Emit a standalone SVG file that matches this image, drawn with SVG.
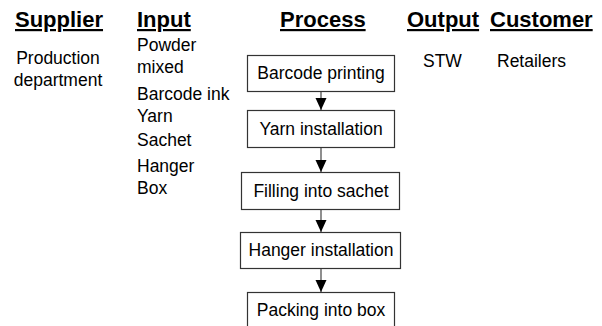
<svg xmlns="http://www.w3.org/2000/svg" width="602" height="326" viewBox="0 0 602 326">
<defs>
<style>
.h{font-family:"Liberation Sans",Arial,sans-serif;font-size:22px;font-weight:bold;text-decoration:underline;fill:#000}
.t{font-family:"Liberation Sans",Arial,sans-serif;font-size:17.5px;fill:#000}
.b{fill:#fff;stroke:#333;stroke-width:1.2}
.c{stroke:#444;stroke-width:1.2;fill:none}
</style>
<marker id="ah" markerWidth="12" markerHeight="12" refX="12" refY="6" orient="auto" markerUnits="userSpaceOnUse">
<path d="M0,0.5 L12,6 L0,11.5 Z" fill="#000"/>
</marker>
</defs>
<rect width="602" height="326" fill="#fff"/>
<g id="headers">
<text class="h" x="15" y="27">Supplier</text>
<text class="h" x="137" y="27">Input</text>
<text class="h" x="280" y="27">Process</text>
<text class="h" x="407" y="27">Output</text>
<text class="h" x="490" y="27">Customer</text>
</g>
<g id="supplier">
<text class="t" x="58" y="64" text-anchor="middle">Production</text>
<text class="t" x="58" y="86" text-anchor="middle">department</text>
</g>
<g id="input">
<text class="t" x="137" y="51">Powder</text>
<text class="t" x="137" y="73">mixed</text>
<text class="t" x="137" y="100">Barcode ink</text>
<text class="t" x="137" y="122">Yarn</text>
<text class="t" x="137" y="146">Sachet</text>
<text class="t" x="137" y="172">Hanger</text>
<text class="t" x="137" y="194">Box</text>
</g>
<g id="output"><text class="t" x="423" y="67">STW</text></g>
<g id="customer"><text class="t" x="497" y="67">Retailers</text></g>
<g id="connectors">
<line class="c" x1="321" y1="91" x2="321" y2="110" marker-end="url(#ah)"/>
<line class="c" x1="321" y1="147" x2="321" y2="172" marker-end="url(#ah)"/>
<line class="c" x1="321" y1="209" x2="321" y2="232" marker-end="url(#ah)"/>
<line class="c" x1="321" y1="268" x2="321" y2="292" marker-end="url(#ah)"/>
</g>
<g id="n1"><rect class="b" x="247.5" y="55.5" width="147" height="36"/><text class="t" x="321" y="79" text-anchor="middle">Barcode printing</text></g>
<g id="n2"><rect class="b" x="247.5" y="110.5" width="147" height="37"/><text class="t" x="321" y="135" text-anchor="middle">Yarn installation</text></g>
<g id="n3"><rect class="b" x="241.5" y="172.5" width="158" height="37"/><text class="t" x="321" y="197" text-anchor="middle">Filling into sachet</text></g>
<g id="n4"><rect class="b" x="240.5" y="232.5" width="160" height="36"/><text class="t" x="321" y="256" text-anchor="middle">Hanger installation</text></g>
<g id="n5"><rect class="b" x="247.5" y="292.5" width="147" height="40"/><text class="t" x="321" y="316" text-anchor="middle">Packing into box</text></g>
</svg>
